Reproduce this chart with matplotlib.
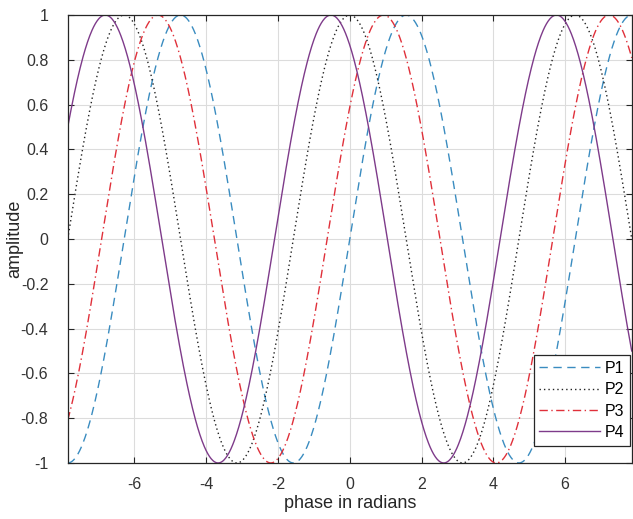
import numpy as np
import matplotlib.pyplot as plt

plt.rcParams['font.family'] = ['Liberation Sans', 'DejaVu Sans']
plt.rcParams['axes.unicode_minus'] = False

# phase shift of each curve (radians)
names = ['P1', 'P2', 'P3', 'P4']
shifts = [0.0, np.pi / 2, np.pi / 5, 2 * np.pi / 3]
colors = ['#3a8cc0', '#222222', '#e0303a', '#7e3b8a']
styles = [(0, (6, 4)), (0, (1, 2.2)), (0, (6, 2.5, 1, 2.5)), '-']

x = np.linspace(-2.5 * np.pi, 2.5 * np.pi, 1000)

fig = plt.figure(figsize=(6.33, 5.19), dpi=100)
ax = fig.add_axes([0.107, 0.108, 0.891, 0.863])

for name, s, c, ls in zip(names, shifts, colors, styles):
    ax.plot(x, np.sin(x + s), color=c, linestyle=ls, lw=1.0, label=name)

ax.set_xlim(-2.5 * np.pi, 2.5 * np.pi)
ax.set_ylim(-1, 1)
ax.set_xticks(np.arange(-6, 7, 2))
ax.set_yticks(np.arange(-1, 1.01, 0.2))
ax.set_yticklabels(['-1', '-0.8', '-0.6', '-0.4', '-0.2', '0',
                    '0.2', '0.4', '0.6', '0.8', '1'])
ax.grid(True, color='#dcdcdc', lw=0.8)
ax.set_axisbelow(True)
ax.tick_params(direction='in', top=True, right=True, length=4,
               labelsize=11.5, colors='#262626', labelcolor='#333333')
ax.tick_params(axis='x', pad=10)
ax.tick_params(axis='y', pad=14)
for sp in ax.spines.values():
    sp.set_color('#262626')
    sp.set_linewidth(0.9)

ax.set_xlabel('phase in radians', fontsize=13, color='#262626', labelpad=2)
ax.set_ylabel('amplitude', fontsize=13, color='#262626', labelpad=-2)

leg = ax.legend(loc='lower right', bbox_to_anchor=(1.0, 0.035), fontsize=11.5,
                handlelength=3.8, handletextpad=0.3, borderpad=0.35,
                labelspacing=0.4, borderaxespad=0.1, fancybox=False,
                framealpha=1)
leg.get_frame().set_edgecolor('#262626')
leg.get_frame().set_linewidth(0.9)

fig.savefig('out.png', dpi=100)
